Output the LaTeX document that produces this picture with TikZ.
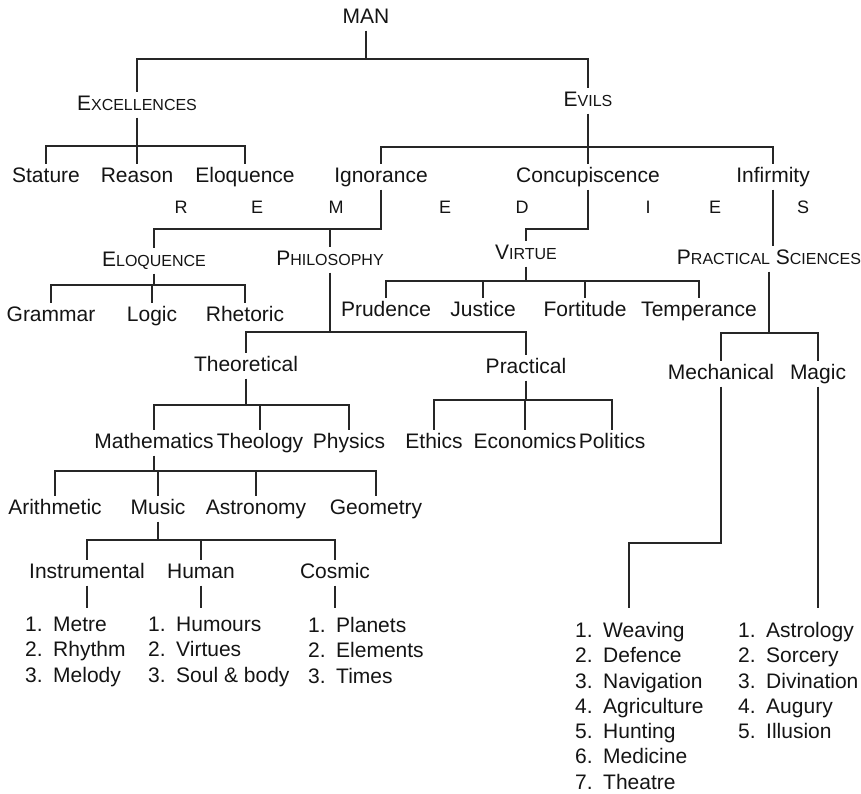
\documentclass[tikz,border=0pt]{standalone}
\usepackage{fontspec}
\setmainfont{Liberation Sans}
\usepackage{tikz}
\newcommand{\smcap}[2]{#1{\fontsize{16}{18}\selectfont #2}}

\begin{document}
\begin{tikzpicture}[
    x=1pt, y=-1pt,
    term/.style={font=\fontsize{21}{25}\selectfont, text=black!92, inner xsep=0pt, inner ysep=3pt, text height=15pt, text depth=4.5pt, anchor=base},
    letter/.style={font=\fontsize{18}{20}\selectfont, text=black!92, inner sep=0pt, anchor=base},
    items/.style={font=\fontsize{21}{25.3}\selectfont, text=black!92, align=left, anchor=north west, inner xsep=0pt, inner ysep=9pt},
    conn/.style={line width=1.4pt, draw=black!85},
]
\useasboundingbox (0,0) rectangle (861,793);

% Top of the tree
\node[term] (man) at (366,23) {MAN};
\node[term] (excel) at (137,110) {\smcap{E}{XCELLENCES}};
\node[term] (evils) at (588,106) {\smcap{E}{VILS}};

% Excellences and evils
\node[term] (stature) at (46,182) {Stature};
\node[term] (reason) at (137,182) {Reason};
\node[term] (eloq) at (245,182) {Eloquence};
\node[term] (ignor) at (381,182) {Ignorance};
\node[term] (concup) at (588,182) {Concupiscence};
\node[term] (infirm) at (773,182) {Infirmity};

% Remedies
\node[letter] (rem1) at (181,213) {R};
\node[letter] (rem2) at (257,213) {E};
\node[letter] (rem3) at (336,213) {M};
\node[letter] (rem4) at (445,213) {E};
\node[letter] (rem5) at (522,213) {D};
\node[letter] (rem6) at (648,213) {I};
\node[letter] (rem7) at (715,213) {E};
\node[letter] (rem8) at (803,213) {S};

\node[term] (eloqb) at (154,266) {\smcap{E}{LOQUENCE}};
\node[term] (philo) at (330,265) {\smcap{P}{HILOSOPHY}};
\node[term] (virtue) at (526,259) {\smcap{V}{IRTUE}};
\node[term] (pracsci) at (769,264) {\smcap{P}{RACTICAL} \smcap{S}{CIENCES}};

% Arts and virtues
\node[term] (grammar) at (51,321) {Grammar};
\node[term] (logic) at (152,321) {Logic};
\node[term] (rhetoric) at (245,321) {Rhetoric};
\node[term] (prud) at (386,316) {Prudence};
\node[term] (justice) at (483,316) {Justice};
\node[term] (fort) at (585,316) {Fortitude};
\node[term] (temper) at (699,316) {Temperance};

% Branches of philosophy and practical sciences
\node[term] (theor) at (246,371) {Theoretical};
\node[term] (pract) at (526,373) {Practical};
\node[term] (mech) at (721,379) {Mechanical};
\node[term] (magic) at (818,379) {Magic};

\node[term] (math) at (154,448) {Mathematics};
\node[term] (theol) at (260,448) {Theology};
\node[term] (physics) at (349,448) {Physics};
\node[term] (ethics) at (434,448) {Ethics};
\node[term] (econ) at (525,448) {Economics};
\node[term] (politics) at (612,448) {Politics};

\node[term] (arith) at (55,514) {Arithmetic};
\node[term] (music) at (158,514) {Music};
\node[term] (astro) at (256,514) {Astronomy};
\node[term] (geom) at (376,514) {Geometry};

\node[term] (instr) at (87,578) {Instrumental};
\node[term] (human) at (201,578) {Human};
\node[term] (cosmic) at (335,578) {Cosmic};

% Numbered lists
\node[items] (instrlist) at (25,608) {1.\enspace Metre\\2.\enspace Rhythm\\3.\enspace Melody};
\node[items] (humanlist) at (148,608) {1.\enspace Humours\\2.\enspace Virtues\\3.\enspace Soul \& body};
\node[items] (cosmiclist) at (308,608) {1.\enspace Planets\\2.\enspace Elements\\3.\enspace Times};
\node[items, inner ysep=14pt] (mechlist) at (575,608) {1.\enspace Weaving\\2.\enspace Defence\\3.\enspace Navigation\\4.\enspace Agriculture\\5.\enspace Hunting\\6.\enspace Medicine\\7.\enspace Theatre};
\node[items, inner ysep=14pt] (magiclist) at (738,608) {1.\enspace Astrology\\2.\enspace Sorcery\\3.\enspace Divination\\4.\enspace Augury\\5.\enspace Illusion};

% Bars
\coordinate (manbar) at (0,59);
\coordinate (excelbar) at (0,146);
\coordinate (evilsbar) at (0,147);
\coordinate (ignorbar) at (0,229);
\coordinate (concupbar) at (0,229);
\coordinate (eloqbbar) at (0,285);
\coordinate (philobar) at (0,332);
\coordinate (virtuebar) at (0,281);
\coordinate (pracscibar) at (0,333);
\coordinate (theorbar) at (0,405);
\coordinate (practbar) at (0,400);
\coordinate (mathbar) at (0,471);
\coordinate (musicbar) at (0,540);
\coordinate (mechbend) at (629,543);

% Connectors
\draw[conn] (man.south) -- (man.south |- manbar) -| (excel.north)
    (man.south |- manbar) -| (evils.north);
\draw[conn] (excel.south) -- (excel.south |- excelbar) -| (stature.north)
    (excel.south |- excelbar) -| (reason.north)
    (excel.south |- excelbar) -| (eloq.north);
\draw[conn] (evils.south) -- (evils.south |- evilsbar) -| (ignor.north)
    (evils.south |- evilsbar) -| (concup.north)
    (evils.south |- evilsbar) -| (infirm.north);
\draw[conn] (ignor.south) -- (ignor.south |- ignorbar) -| (eloqb.north)
    (ignor.south |- ignorbar) -| (philo.north);
\draw[conn] (concup.south) -- (concup.south |- concupbar) -| (virtue.north);
\draw[conn] (infirm.south) -- (infirm.south |- pracsci.north);
\draw[conn] (eloqb.south) -- (eloqb.south |- eloqbbar) -| (grammar.north)
    (eloqb.south |- eloqbbar) -| (logic.north)
    (eloqb.south |- eloqbbar) -| (rhetoric.north);
\draw[conn] (philo.south) -- (philo.south |- philobar) -| (theor.north)
    (philo.south |- philobar) -| (pract.north);
\draw[conn] (virtue.south) -- (virtue.south |- virtuebar) -| (prud.north)
    (virtue.south |- virtuebar) -| (justice.north)
    (virtue.south |- virtuebar) -| (fort.north)
    (virtue.south |- virtuebar) -| (temper.north);
\draw[conn] (pracsci.south) -- (pracsci.south |- pracscibar) -| (mech.north)
    (pracsci.south |- pracscibar) -| (magic.north);
\draw[conn] (theor.south) -- (theor.south |- theorbar) -| (math.north)
    (theor.south |- theorbar) -| (theol.north)
    (theor.south |- theorbar) -| (physics.north);
\draw[conn] (pract.south) -- (pract.south |- practbar) -| (ethics.north)
    (pract.south |- practbar) -| (econ.north)
    (pract.south |- practbar) -| (politics.north);
\draw[conn] (math.south) -- (math.south |- mathbar) -| (arith.north)
    (math.south |- mathbar) -| (music.north)
    (math.south |- mathbar) -| (astro.north)
    (math.south |- mathbar) -| (geom.north);
\draw[conn] (music.south) -- (music.south |- musicbar) -| (instr.north)
    (music.south |- musicbar) -| (human.north)
    (music.south |- musicbar) -| (cosmic.north);
\draw[conn] (instr.south) -- (instr.south |- instrlist.north);
\draw[conn] (human.south) -- (human.south |- humanlist.north);
\draw[conn] (cosmic.south) -- (cosmic.south |- cosmiclist.north);
\draw[conn] (mech.south) |- (mechbend) -- (mechbend |- mechlist.north);
\draw[conn] (magic.south) -- (magic.south |- magiclist.north);

\end{tikzpicture}
\end{document}
